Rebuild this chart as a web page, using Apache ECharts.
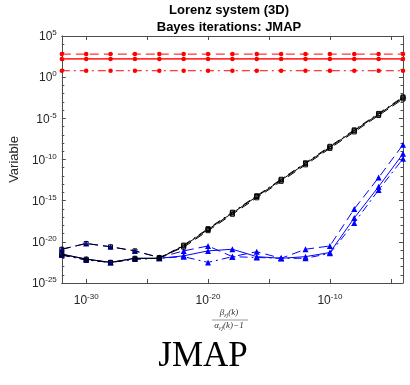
<!DOCTYPE html>
<html>
<head>
<meta charset="utf-8">
<script src="https://cdn.jsdelivr.net/npm/echarts@6/dist/echarts.min.js"></script>
<style>html,body{margin:0;padding:0;background:#fff;}#c{width:410px;height:385px;}</style>
</head>
<body>
<div id="c"></div>
<script>
// All values are log10 of the quantities (axes are decades).
// x positions: log10( beta/(alpha-1) )
const xLog = [-32,-30,-28,-26,-24,-22,-20,-18,-16,-14,-12,-10,-8,-6,-4];
// red (constant) series, log10
const redDashed  = [2.8,2.8,2.8,2.8,2.8,2.8,2.8,2.8,2.8,2.8,2.8,2.8,2.8,2.8,2.8];
const redSolid   = [2.22,2.22,2.22,2.22,2.22,2.22,2.22,2.22,2.22,2.22,2.22,2.22,2.22,2.22,2.22];
const redDashDot = [0.78,0.78,0.78,0.78,0.78,0.78,0.78,0.78,0.78,0.78,0.78,0.78,0.78,0.78,0.78];
// black (square markers), log10
const blackSolid   = [-21.5,-22.1,-22.5,-22.0,-22.0,-20.5,-18.5,-16.5,-14.5,-12.5,-10.5,-8.5,-6.5,-4.5,-2.5];
const blackDashed  = [-20.9,-20.2,-20.6,-21.1,-21.9,-20.65,-18.65,-16.65,-14.65,-12.65,-10.65,-8.65,-6.65,-4.65,-2.65];
const blackDashDot = [-21.6,-22.2,-22.5,-22.1,-22.0,-20.4,-18.4,-16.4,-14.4,-12.4,-10.4,-8.4,-6.4,-4.4,-2.4];
// blue (triangle markers), log10
const blueSolid   = [-21.5,-22.1,-22.5,-22.0,-22.0,-21.7,-21.1,-20.9,-21.8,-22.0,-21.8,-21.3,-17.1,-13.3,-9.3];
const blueDashed  = [-20.9,-20.2,-20.6,-21.1,-21.9,-21.1,-20.5,-21.8,-21.2,-22.0,-20.9,-20.5,-16.0,-12.2,-8.2];
const blueDashDot = [-21.6,-22.2,-22.5,-22.1,-22.0,-21.8,-22.5,-21.8,-21.9,-22.0,-22.0,-21.4,-17.7,-13.7,-9.9];
// tick labels (exponents shown as 10^e)
const xTickExponents = [-30,-20,-10];
const yTickExponents = [5,0,-5,-10,-15,-20,-25];

const FONT = "'Liberation Sans', Arial, Helvetica, sans-serif";
const AX = '#4d4d4d';
const DASH = [9,5];
const DASHDOT = [8,4,2,4];

function pairs(ys){ return xLog.map((x,i)=>[x, ys[i]]); }
function supLabel(v, list){
  const e = Math.round(v);
  if (Math.abs(v - e) > 1e-6 || list.indexOf(e) < 0) return '';
  return '{b|10}{s|' + e + '}';
}
const richLab = {
  b:{fontSize:12, fontFamily:FONT, color:'#262626', verticalAlign:'bottom'},
  s:{fontSize:8, fontFamily:FONT, color:'#262626', verticalAlign:'top', padding:[0,0,6,0]}
};

function mk(name, ys, color, dash, symbol, extra){
  return Object.assign({
    name, type:'line', data:pairs(ys), symbol, symbolSize:5,
    lineStyle:{color, width:1, type:dash},
    itemStyle:{color}, emphasis:{disabled:true}, animation:false
  }, extra||{});
}
const sq = {color:'rgba(0,0,0,0)', borderColor:'#000', borderWidth:1};

const series = [
  mk('blueSolid', blueSolid, '#0000ff', 'solid', 'triangle', {symbolSize:6, z:2}),
  mk('blueDashed', blueDashed, '#0000ff', DASH, 'triangle', {symbolSize:6, z:2}),
  mk('blueDashDot', blueDashDot, '#0000ff', DASHDOT, 'triangle', {symbolSize:6, z:2}),
  mk('blackSolid', blackSolid, '#000000', 'solid', 'rect', {symbolSize:4, z:3, itemStyle:sq}),
  mk('blackDashed', blackDashed, '#000000', DASH, 'rect', {symbolSize:4, z:3, itemStyle:sq}),
  mk('blackDashDot', blackDashDot, '#000000', DASHDOT, 'rect', {symbolSize:4, z:3, itemStyle:sq}),
  mk('redDashed', redDashed, '#ff0000', DASH, 'circle', {symbolSize:4.5, z:4}),
  mk('redSolid', redSolid, '#ff0000', 'solid', 'circle', {symbolSize:4.5, z:4, lineStyle:{color:'#ff0000', width:1.6, type:'solid', opacity:0.8}}),
  mk('redDashDot', redDashDot, '#ff0000', DASHDOT, 'circle', {symbolSize:4.5, z:4})
];

const chart = echarts.init(document.getElementById('c'), null, {renderer:'canvas'});
chart.setOption({
  backgroundColor:'#ffffff',
  animation:false,
  grid:{left:55, right:7, top:36, bottom:102, containLabel:false},
  xAxis:[{
    type:'value', min:-32, max:-4, splitNumber:5, position:'bottom',
    axisLine:{show:true, onZero:false, lineStyle:{color:AX, width:1}},
    axisTick:{show:true, inside:true, length:4, lineStyle:{color:AX}},
    splitLine:{show:false},
    axisLabel:{margin:10, showMinLabel:false, showMaxLabel:false, formatter:v=>supLabel(v, xTickExponents), rich:richLab}
  },{
    type:'value', min:-32, max:-4, splitNumber:5, position:'top',
    axisLine:{show:true, onZero:false, lineStyle:{color:AX, width:1}},
    axisTick:{show:true, inside:true, length:4, lineStyle:{color:AX}},
    splitLine:{show:false}, axisLabel:{show:false}
  }],
  yAxis:[{
    type:'value', min:-25, max:5, interval:5, position:'left',
    name:'Variable', nameLocation:'middle', nameGap:40,
    nameTextStyle:{fontSize:13, fontFamily:FONT, color:'#262626'},
    axisLine:{show:true, onZero:false, lineStyle:{color:AX, width:1}},
    axisTick:{show:true, inside:true, length:4, lineStyle:{color:AX}},
    minorTick:{show:true, splitNumber:5, length:2.5, lineStyle:{color:AX}},
    splitLine:{show:false},
    axisLabel:{margin:5, formatter:v=>supLabel(v, yTickExponents), rich:richLab}
  },{
    type:'value', min:-25, max:5, interval:5, position:'right',
    axisLine:{show:true, onZero:false, lineStyle:{color:AX, width:1}},
    axisTick:{show:true, inside:true, length:4, lineStyle:{color:AX}},
    minorTick:{show:true, splitNumber:5, length:2.5, lineStyle:{color:AX}},
    splitLine:{show:false}, axisLabel:{show:false}
  }],
  series: series,
  graphic:[
    {type:'text', x:229, y:10, style:{text:'Lorenz system (3D)', font:'bold 13px '+FONT, fill:'#000', textAlign:'center', textVerticalAlign:'middle'}},
    {type:'text', x:229, y:27, style:{text:'Bayes iterations: JMAP', font:'bold 13px '+FONT, fill:'#000', textAlign:'center', textVerticalAlign:'middle'}},
    {type:'text', x:229, y:313, style:{
      text:'{g|β}{s|εj}{g|(k)}', textAlign:'center', textVerticalAlign:'middle',
      rich:{g:{fontSize:9, fontFamily:"'Liberation Serif', serif", fontStyle:'italic', fill:'#333'}, s:{fontSize:6, fontFamily:"'Liberation Serif', serif", fontStyle:'italic', fill:'#333', verticalAlign:'bottom', padding:[5,0,0,0]}}
    }},
    {type:'line', shape:{x1:212, y1:320, x2:248, y2:320}, style:{stroke:'#555', lineWidth:0.6}},
    {type:'text', x:229, y:326, style:{
      text:'{g|α}{s|εj}{g|(k)−1}', textAlign:'center', textVerticalAlign:'middle',
      rich:{g:{fontSize:9, fontFamily:"'Liberation Serif', serif", fontStyle:'italic', fill:'#333'}, s:{fontSize:6, fontFamily:"'Liberation Serif', serif", fontStyle:'italic', fill:'#333', verticalAlign:'bottom', padding:[5,0,0,0]}}
    }},
    {type:'text', x:203, y:357, style:{text:'JMAP', font:'35px "Liberation Serif", "Times New Roman", serif', fill:'#000', textAlign:'center', textVerticalAlign:'middle'}}
  ]
});
</script>
</body>
</html>
